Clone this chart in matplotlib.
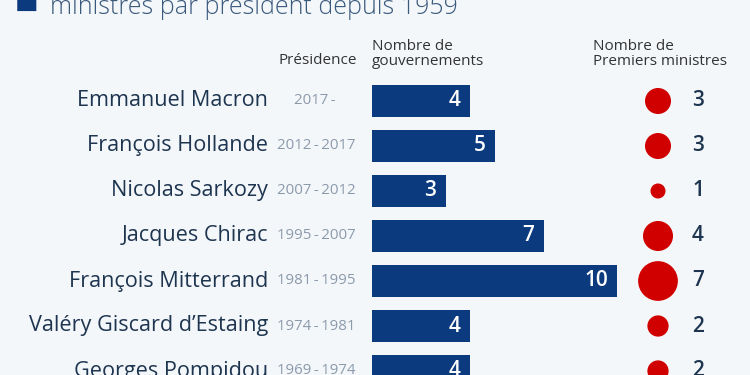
import matplotlib.pyplot as plt

presidents = ["Emmanuel Macron", "François Hollande", "Nicolas Sarkozy", "Jacques Chirac",
              "François Mitterrand", "Valéry Giscard d’Estaing", "Georges Pompidou"]
mandats = ["2017-", "2012-2017", "2007-2012", "1995-2007", "1981-1995", "1974-1981", "1969-1974"]
gouvernements = [4, 5, 3, 7, 10, 4, 4]
premiers_ministres = [3, 3, 1, 4, 7, 2, 2]

bg = "#f4f7fa"
navy = "#0b3b7e"
red = "#d10000"
ink = "#1e3550"
plt.rcParams['font.family'] = ['Open Sans', 'DejaVu Sans']

fig = plt.figure(figsize=(7.5, 3.75), dpi=100, facecolor=bg)
ax = fig.add_axes([0, 0, 1, 1], facecolor=bg)
# 1 unit = 24.5 px, bars start at px 372, rows every 45 px from px 101
ax.set_xlim(-372 / 24.5, (750 - 372) / 24.5)
ax.set_ylim((375 - 101) / 45, -101 / 45)
ax.axis('off')

rows = range(len(presidents))
ax.barh(rows, gouvernements, height=0.73, left=0, color=navy)

x_circle = (658 - 372) / 24.5
ax.scatter([x_circle] * len(rows), rows, s=[117 * n for n in premiers_ministres],
           color=red, edgecolors='none', zorder=3)

x_name = (268 - 372) / 24.5
x_year = (316 - 372) / 24.5
x_pm = (698 - 372) / 24.5
for i in rows:
    ax.text(x_name, i, presidents[i], ha='right', va='center', fontsize=15.6, color=ink)
    ax.text(x_year, i, mandats[i].replace("-", "\u2009-\u2009"), ha='center', va='center',
            fontsize=10.8, color="#8b9aab")
    ax.text(gouvernements[i] - 0.37, i, str(gouvernements[i]), ha='right', va='center',
            fontsize=15, color='white', fontweight='semibold')
    ax.text(x_pm, i, str(premiers_ministres[i]), ha='center', va='center',
            fontsize=15, color=ink, fontweight='semibold')

# column headers
hy = -1.05
ax.text((357 - 372) / 24.5, -0.91, "Présidence", ha='right', va='center', fontsize=11, color="#333333")
ax.text(0, hy, "Nombre de\ngouvernements", ha='left', va='center', fontsize=11,
        color="#333333", linespacing=1.0)
ax.text((593 - 372) / 24.5, hy, "Nombre de\nPremiers ministres", ha='left', va='center',
        fontsize=11, color="#333333", linespacing=1.0)

# title (cut at the top)
fig.text(0.02, 0.995, "\u25A0", fontsize=18, color=navy, ha='left', va='center')
fig.text(0.067, 0.98, "ministres par président depuis 1959", fontsize=18, color="#3a5a7c",
         ha='left', va='center', fontweight='light')

fig.savefig("out.png", dpi=100, facecolor=bg)
